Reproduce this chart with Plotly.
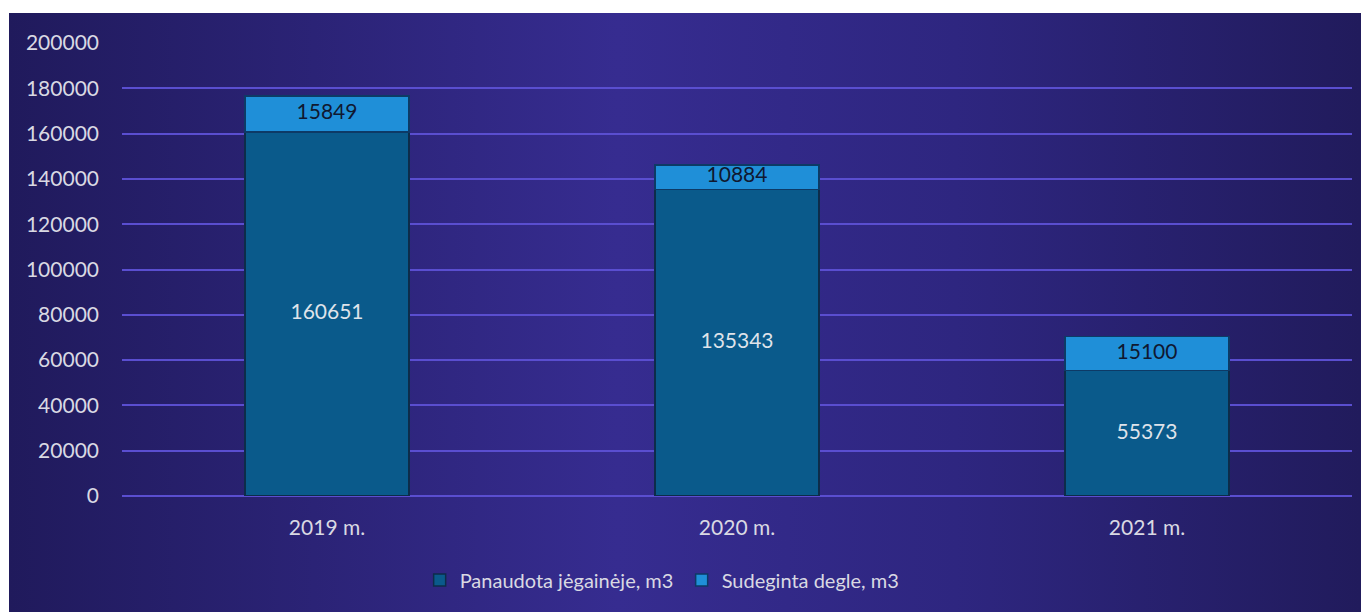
import base64
import plotly.graph_objects as go

categories = ["2019 m.", "2020 m.", "2021 m."]
panaudota = [160651, 135343, 55373]
sudeginta = [15849, 10884, 15100]
series_names = ["Panaudota jėgainėje, m3", "Sudeginta degle, m3"]
y_ticks = [0, 20000, 40000, 60000, 80000, 100000, 120000, 140000, 160000, 180000, 200000]

FONT = "Lato"

svg = """<svg xmlns='http://www.w3.org/2000/svg' width='1352' height='600' preserveAspectRatio='none'>
<defs><linearGradient id='g' x1='0' y1='0' x2='1' y2='0'>
<stop offset='0' stop-color='#201a5c'/>
<stop offset='0.45' stop-color='#362c90'/>
<stop offset='0.7' stop-color='#2e2680'/>
<stop offset='1' stop-color='#211b5c'/>
</linearGradient></defs>
<rect width='1352' height='600' fill='url(#g)'/>
</svg>"""
src = "data:image/svg+xml;base64," + base64.b64encode(svg.encode()).decode()

fig = go.Figure()
fig.add_trace(go.Bar(
    x=categories, y=panaudota, name=series_names[0],
    marker=dict(color="#0a5a8b", line=dict(color="#0d2c4a", width=1.5)),
    textposition="none",
))
fig.add_trace(go.Bar(
    x=categories, y=sudeginta, name=series_names[1],
    marker=dict(color="#1f8fd8", line=dict(color="#0d3a66", width=1.5)),
    textposition="none",
))
# value labels at segment midpoints
fig.add_trace(go.Scatter(
    x=categories, y=[v / 2 for v in panaudota], mode="text",
    text=[str(v) for v in panaudota], textposition="middle center",
    textfont=dict(color="#dfe3ea", size=21, family=FONT), showlegend=False, hoverinfo="skip",
))
fig.add_trace(go.Scatter(
    x=categories, y=[p + s / 2 for p, s in zip(panaudota, sudeginta)], mode="text",
    text=[str(v) for v in sudeginta], textposition="middle center",
    textfont=dict(color="#101830", size=21, family=FONT), showlegend=False, hoverinfo="skip",
))

W, H = 1361, 612
ml, mr, mt, mb = 122, 9, 43, 116
pw, ph = W - ml - mr, H - mt - mb
x0 = (9 - ml) / pw
y1 = (H - mb - 13) / ph
fig.add_layout_image(dict(
    source=src, xref="paper", yref="paper", x=x0, y=y1,
    sizex=(W - 9) / pw, sizey=(H - 13) / ph, sizing="stretch",
    xanchor="left", yanchor="top", layer="below",
))

fig.update_layout(
    width=W, height=H, margin=dict(l=ml, r=mr, t=mt, b=mb),
    barmode="stack", bargap=0.6,
    paper_bgcolor="white", plot_bgcolor="rgba(0,0,0,0)",
    font=dict(family=FONT, color="#d9d9e3", size=21),
    xaxis=dict(showgrid=False, showline=False, ticks="", tickfont=dict(size=21, color="#d9d9e3"),
               ticklabelstandoff=17),
    yaxis=dict(range=[0, 200000], tickvals=y_ticks, ticktext=[str(v) for v in y_ticks],
               showgrid=True, gridcolor="#5a4ed0", gridwidth=2,
               zeroline=True, zerolinecolor="#5a4ed0", zerolinewidth=2,
               tickfont=dict(size=21, color="#d9d9e3"), ticklabelstandoff=22, ticks=""),
    legend=dict(orientation="h", x=0.455, xanchor="center", y=(H - mb - 580) / ph, yanchor="middle",
                font=dict(size=20, color="#d9d9e3"), bgcolor="rgba(0,0,0,0)",
                itemwidth=30, traceorder="normal", entrywidth=217, entrywidthmode="pixels"),
    showlegend=True,
)

fig.write_html("out.html", config={"displayModeBar": False},
               post_script="document.body.style.margin='0';document.body.style.overflow='hidden';")
